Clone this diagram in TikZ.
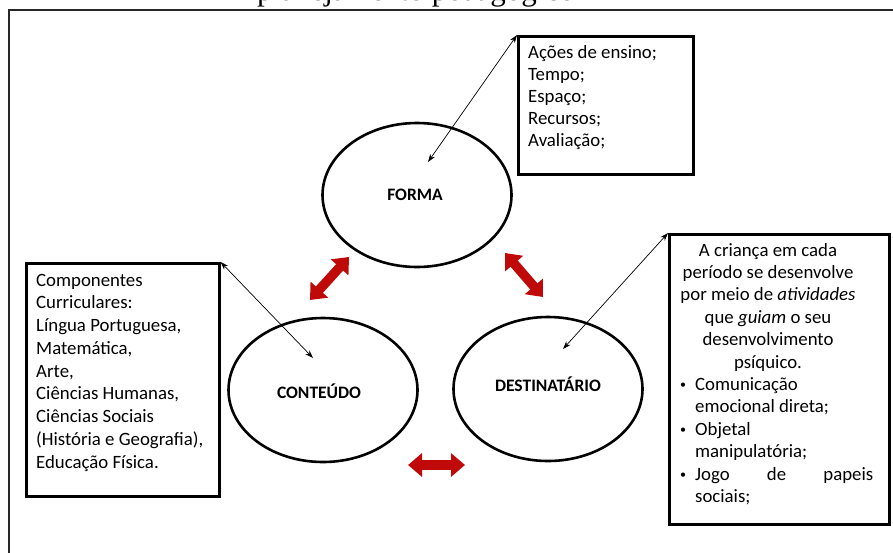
\documentclass[tikz,border=0pt]{standalone}
\usepackage{fontspec}
\setmainfont{Carlito}
\newfontfamily\titlefont{Liberation Serif}
\usetikzlibrary{arrows.meta,shapes.geometric}
\definecolor{darkred}{RGB}{192,10,10}
\definecolor{framegray}{RGB}{40,40,40}
\newcommand{\smallbul}{\makebox[16pt][l]{\hspace{1pt}\raisebox{1.5pt}{\fontsize{12}{12}\selectfont •}}}
\begin{document}
\begin{tikzpicture}[x=1pt,y=-1pt,
  txt/.style={inner sep=0pt, anchor=base west, font=\fontsize{18.8}{22}\selectfont},
  box/.style={draw=black, line width=2.6pt, inner sep=0pt, anchor=north west},
  bubble/.style={draw=black, ellipse, line width=2.6pt, inner sep=0pt, minimum width=189pt, minimum height=144pt},
  lbl/.style={font=\fontsize{17.5}{20}\selectfont\bfseries, inner sep=0pt},
  link/.style={line width=0.7pt, {Stealth[length=8pt,width=5.5pt]}-{Stealth[length=8pt,width=5.5pt]}},
  redarrow/.style={draw=darkred, line width=9.5pt, {Triangle[length=14pt,width=23pt]}-{Triangle[length=14pt,width=23pt]}},
  frameline/.style={draw=framegray, line width=1.8pt}
]
\useasboundingbox (0,0) rectangle (893,552);

% cropped title and outer frame
\node[anchor=base, inner sep=0pt, font=\titlefont\fontsize{31}{31}\selectfont] (title) at (416,0.5) {planejamento pedagógico};
\draw[frameline] (9,570) -- (9,10) -- (910,10);

% ellipses
\node[bubble] (forma) at (417,195) {};
\node[bubble] (conteudo) at (323,390) {};
\node[bubble] (dest) at (548,389) {};
\node[lbl] (formalbl) at (415,195) {FORMA};
\node[lbl] (conteudolbl) at (319,391) {CONTEÚDO};
\node[lbl] (destlbl) at (548,384) {DESTINATÁRIO};

% boxes
\node[box, minimum width=175pt, minimum height=138pt] (fb) at (517,35) {};
\node[box, minimum width=193pt, minimum height=233pt] (cb) at (25,262) {};
\node[box, minimum width=220pt, minimum height=290pt] (db) at (668,233) {};

% box texts
\node[txt] (ft) at (528,58) {\parbox[t]{160pt}{Ações de ensino;\\Tempo;\\Espaço;\\Recursos;\\Avaliação;}};
\node[txt, font=\fontsize{18.8}{22.75}\selectfont] (ct) at (36,286) {\parbox[t]{180pt}{Componentes\\Curriculares:\\Língua Portuguesa,\\Matemática,\\Arte,\\Ciências Humanas,\\Ciências Sociais\\(História e Geografia),\\Educação Física.}};
\node[txt, anchor=base, font=\fontsize{18.8}{22.4}\selectfont] (dt) at (768,256) {\parbox[t]{205pt}{\centering A criança em cada\\período se desenvolve\\por meio de \textit{atividades}\\que \textit{guiam} o seu\\desenvolvimento\\psíquico.}};
\node[txt, font=\fontsize{18.8}{22.4}\selectfont] (dl) at (679,390.4) {\parbox[t]{194pt}{\smallbul Comunicação\\\hspace*{16pt}emocional direta;\\\smallbul Objetal\\\hspace*{16pt}manipulatória;\\\smallbul Jogo\hfill de\hfill papeis\\\hspace*{16pt}sociais;}};

% thin double arrows
\coordinate (fa) at (428,162);
\coordinate (ca) at (313,358);
\coordinate (da) at (563,349);
\draw[link] (fb.north west) -- (fa);
\draw[link] (cb.north east) -- (ca);
\draw[link] (db.north west) -- (da);

% red double arrows
\coordinate (r1a) at (310,300);
\coordinate (r1b) at (349,257);
\coordinate (r2a) at (505,253);
\coordinate (r2b) at (543,297);
\coordinate (r3a) at (408,465);
\coordinate (r3b) at (465,465);
\draw[redarrow] (r1a) -- (r1b);
\draw[redarrow] (r2a) -- (r2b);
\draw[redarrow] (r3a) -- (r3b);
\end{tikzpicture}
\end{document}
